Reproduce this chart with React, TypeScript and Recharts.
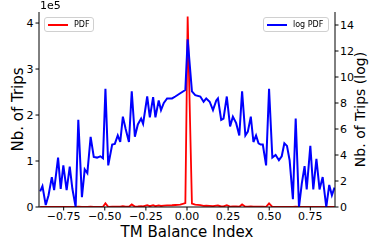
import { LineChart, Line, XAxis, YAxis } from 'recharts';

// bin centres along the TM balance index
const binX = [
  -0.893, -0.879, -0.859, -0.842, -0.822, -0.808, -0.784, -0.768, -0.752, -0.732,
  -0.713, -0.697, -0.677, -0.661, -0.639, -0.622, -0.606, -0.586, -0.567, -0.547,
  -0.527, -0.511, -0.496, -0.479, -0.455, -0.439, -0.421, -0.406, -0.39, -0.373,
  -0.353, -0.336, -0.317, -0.299, -0.279, -0.267, -0.242, -0.226, -0.206, -0.192,
  -0.172, -0.158, -0.141, -0.121, -0.091, -0.071, -0.041, -0.01, 0.004, 0.03,
  0.05, 0.081, 0.101, 0.117, 0.138, 0.158, 0.178, 0.188, 0.208, 0.222,
  0.242, 0.262, 0.279, 0.299, 0.318, 0.335, 0.355, 0.37, 0.388, 0.404,
  0.42, 0.435, 0.448, 0.461, 0.481, 0.499, 0.519, 0.539, 0.559, 0.576,
  0.592, 0.608, 0.624, 0.644, 0.661, 0.681, 0.698, 0.715, 0.728, 0.75,
  0.768, 0.787, 0.806, 0.825, 0.847, 0.865, 0.881, 0.897,
];

// trip counts (PDF)
const pdf = [
  0, 0, 0, 0, 0, 0, 200, 0, 200, 0,
  200, 0, 0, 800, 0, 200, 200, 600, 300, 300,
  300, 300, 8000, 300, 600, 600, 900, 700, 1800, 1000,
  700, 5500, 900, 1200, 1700, 1200, 4000, 1800, 3800, 1800,
  3500, 2200, 3000, 3400, 3800, 4300, 5200, 8500, 414000, 7500,
  5000, 4300, 2600, 3000, 2600, 1800, 3000, 3200, 1200, 1300,
  4000, 1000, 1500, 1200, 800, 5500, 800, 900, 1500, 600,
  800, 500, 500, 500, 300, 8000, 200, 200, 200, 200,
  300, 200, 200, 0, 800, 0, 200, 200, 200, 200,
  200, 200, 200, 200, 0, 200, 200, 200,
];

// log of trip counts
const logPdf = [
  1.2, 1.6, 0.15, 0.9, 2.3, 1.3, 3.8, 1.4, 3.2, 1.3,
  3.1, 1.4, 0, 6.7, 0.75, 2.9, 2.6, 5.4, 3.85, 3.8,
  3.9, 3.75, 9.1, 3.2, 4.8, 4.85, 5.5, 5.0, 6.95, 6.0,
  5.0, 8.9, 5.4, 6.35, 6.8, 6.4, 8.5, 6.9, 8.45, 6.9,
  8.2, 7.45, 8.0, 8.35, 8.35, 8.5, 8.75, 9.0, 12.9, 8.9,
  8.6, 8.5, 8.1, 8.35, 8.1, 7.45, 8.2, 8.35, 6.7, 6.8,
  8.5, 6.2, 6.95, 6.45, 5.5, 8.9, 5.5, 5.8, 6.95, 5.0,
  5.5, 4.9, 4.8, 4.8, 3.2, 9.1, 3.8, 4.0, 3.6, 3.9,
  4.9, 4.7, 3.6, 0.6, 6.8, 0, 1.8, 3.15, 1.35, 4.7,
  1.35, 3.7, 1.35, 2.3, 0, 1.7, 0.9, 1.5,
];

const xTicks = [-0.75, -0.5, -0.25, 0, 0.25, 0.5, 0.75];
const leftTicks = [0, 100000, 200000, 300000, 400000];
const rightTicks = [0, 2, 4, 6, 8, 10, 12, 14];

const data = binX.map((x, i) => ({ x, pdf: pdf[i], logPdf: logPdf[i] }));

const FONT = '"DejaVu Sans", sans-serif';
const ink = '#000';
const tickStyle = { fontSize: 11, fill: ink, fontFamily: FONT };

const fmtX = (v: number) => (v < 0 ? '\u2212' + Math.abs(v).toFixed(2) : v.toFixed(2));

const legendBox: React.CSSProperties = {
  position: 'absolute',
  border: '1px solid #d0d0d0',
  borderRadius: 3,
  background: 'rgba(255,255,255,0.85)',
  display: 'flex',
  alignItems: 'center',
  fontFamily: FONT,
  fontSize: 8,
  color: '#000',
  height: 15,
  boxSizing: 'border-box',
  padding: '0 3px',
};

// vertical axis title, reads bottom to top
const sideTitle = (cx: number, text: string, size: number) => ({ viewBox }: any) => {
  const cy = viewBox.y + viewBox.height / 2;
  return (
    <text
      x={cx}
      y={cy}
      transform={`rotate(-90 ${cx} ${cy})`}
      textAnchor="middle"
      dominantBaseline="central"
      fontSize={size}
      fontFamily={FONT}
      fill={ink}
    >
      {text}
    </text>
  );
};

const App = () => {
  return (
    <div style={{ position: 'fixed', left: 0, top: 0, width: 369, height: 248, background: '#fff' }}>
      <LineChart width={369} height={248} data={data} margin={{ top: 12, right: 0, bottom: 0, left: 0 }}>
        <XAxis
          dataKey="x"
          type="number"
          domain={[-0.9, 0.9]}
          allowDataOverflow
          ticks={xTicks}
          tickFormatter={fmtX}
          height={41}
          tickSize={3.5}
          tickMargin={2}
          tick={tickStyle}
          stroke={ink}
          interval={0}
          label={({ viewBox }: any) => (
            <text x={viewBox.x + viewBox.width / 2} y={viewBox.y + 30} textAnchor="middle" fontSize={15} fontFamily={FONT} fill={ink}>
              TM Balance Index
            </text>
          )}
        />
        <XAxis xAxisId="top" dataKey="x" type="number" domain={[-0.9, 0.9]} orientation="top" height={0} tick={false} tickLine={false} stroke={ink} />
        <YAxis
          yAxisId="left"
          domain={[0, 424000]}
          allowDataOverflow
          ticks={leftTicks}
          tickFormatter={(v: number) => String(v / 100000)}
          width={39}
          tickSize={3.5}
          tickMargin={2}
          tick={tickStyle}
          stroke={ink}
          label={sideTitle(18, 'Nb. of Trips', 15)}
        />
        <YAxis
          yAxisId="right"
          orientation="right"
          domain={[0, 15]}
          allowDataOverflow
          ticks={rightTicks}
          width={34}
          tickSize={3.5}
          tickMargin={1.5}
          tick={tickStyle}
          stroke={ink}
          label={sideTitle(360, 'Nb. of Trips (log)', 14)}
        />
        <Line yAxisId="left" dataKey="pdf" type="linear" stroke="#ff0000" strokeWidth={1.8} dot={false} isAnimationActive={false} />
        <Line yAxisId="right" dataKey="logPdf" type="linear" stroke="#0000ff" strokeWidth={2} dot={false} isAnimationActive={false} />
      </LineChart>
      <div style={{ position: 'absolute', left: 40, top: 0, fontFamily: FONT, fontSize: 11, color: ink, lineHeight: '12px' }}>1e5</div>
      <div style={{ ...legendBox, left: 44, top: 17, width: 50 }}>
        <span style={{ display: 'inline-block', width: 20, height: 2, background: '#ff0000', marginRight: 6 }} />
        PDF
      </div>
      <div style={{ ...legendBox, left: 263, top: 17, width: 66 }}>
        <span style={{ display: 'inline-block', width: 20, height: 2, background: '#0000ff', marginRight: 6 }} />
        log PDF
      </div>
    </div>
  );
};

export default App;
